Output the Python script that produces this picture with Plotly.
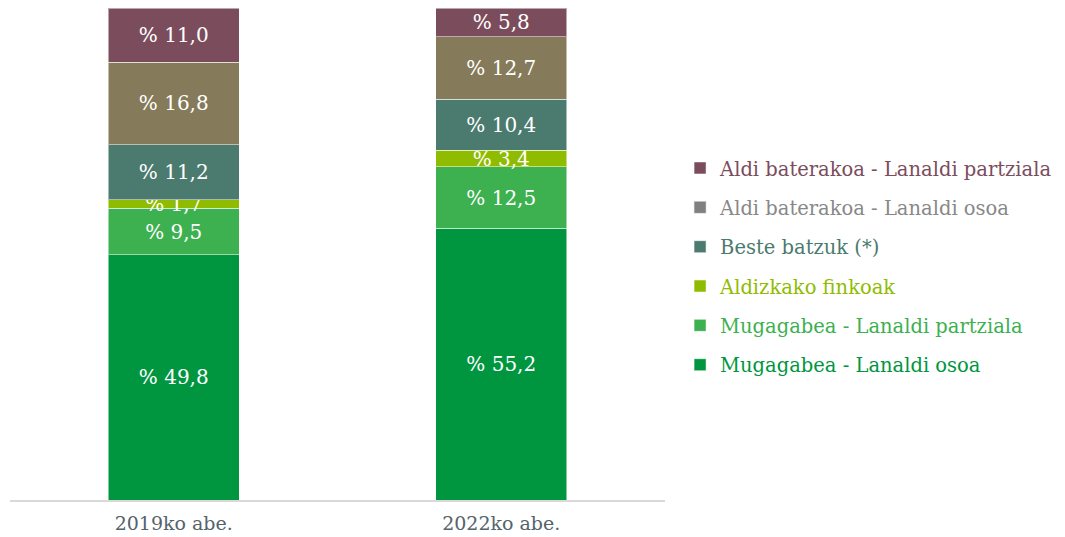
import plotly.graph_objects as go

periods = ["2019ko abe.", "2022ko abe."]

series_names = [
    "Mugagabea - Lanaldi osoa",
    "Mugagabea - Lanaldi partziala",
    "Aldizkako finkoak",
    "Beste batzuk (*)",
    "Aldi baterakoa - Lanaldi osoa",
    "Aldi baterakoa - Lanaldi partziala",
]
mugagabea_osoa = [49.8, 55.2]
mugagabea_partziala = [9.5, 12.5]
aldizkako_finkoak = [1.7, 3.4]
beste_batzuk = [11.2, 10.4]
aldi_osoa = [16.8, 12.7]
aldi_partziala = [11.0, 5.8]

series_values = [
    mugagabea_osoa,
    mugagabea_partziala,
    aldizkako_finkoak,
    beste_batzuk,
    aldi_osoa,
    aldi_partziala,
]
bar_colors = ["#009640", "#3db050", "#8fbc00", "#4b7a6e", "#857a59", "#7b4d5c"]
# the legend key of the olive series is grey in the original
legend_colors = ["#009640", "#3db050", "#8fbc00", "#4b7a6e", "#808080", "#7b4d5c"]
legend_text_colors = ["#009640", "#3db050", "#8fbc00", "#4b7a6e", "#888888", "#7b4d5c"]

FONT = "DejaVu Serif"

fig = go.Figure()
for i, (name, vals, col, lcol, tcol) in enumerate(
    zip(series_names, series_values, bar_colors, legend_colors, legend_text_colors)
):
    rank = len(series_names) - i
    label = f"<span style='color:{tcol}'>{name}</span>"
    fig.add_trace(
        go.Bar(
            x=periods,
            y=vals,
            name=label,
            legendgroup=name,
            legendrank=rank,
            showlegend=lcol == col,
            marker=dict(color=col, line=dict(color="rgba(255,255,255,0.5)", width=1)),
            texttemplate="% %{y:.1f}",
            textposition="inside",
            insidetextanchor="middle",
            constraintext="none",
            textfont=dict(color="#ffffff", size=20, family=FONT),
            hovertemplate=name + "<br>%{x}: % %{y:.1f}<extra></extra>",
        )
    )
    if lcol != col:
        # legend-only key in its own colour
        fig.add_trace(
            go.Bar(
                x=[None],
                y=[None],
                name=label,
                legendgroup=name,
                legendrank=rank,
                marker=dict(color=lcol),
                hoverinfo="skip",
            )
        )

# page body keeps its 8px margin; the figure runs to the window edge
fig.update_layout(
    barmode="stack",
    bargap=0.6,
    separators=",.",
    width=1057,
    height=529,
    margin=dict(l=2, r=400, t=0, b=37, autoexpand=False),
    paper_bgcolor="#ffffff",
    plot_bgcolor="#ffffff",
    font=dict(family=FONT, size=19, color="#55636b"),
    legend=dict(
        x=1.023,
        y=0.474,
        xanchor="left",
        yanchor="middle",
        traceorder="grouped",
        tracegroupgap=11,
        font=dict(family=FONT, size=19.5),
        itemwidth=30,
    ),
)
fig.update_xaxes(
    showline=True,
    linecolor="#d9d9d9",
    linewidth=2,
    ticks="",
    ticklabelstandoff=5,
    tickfont=dict(size=19, color="#55636b"),
)
fig.update_yaxes(range=[0, 100], showgrid=False, showticklabels=False, zeroline=False)

fig.write_html("out.html")
